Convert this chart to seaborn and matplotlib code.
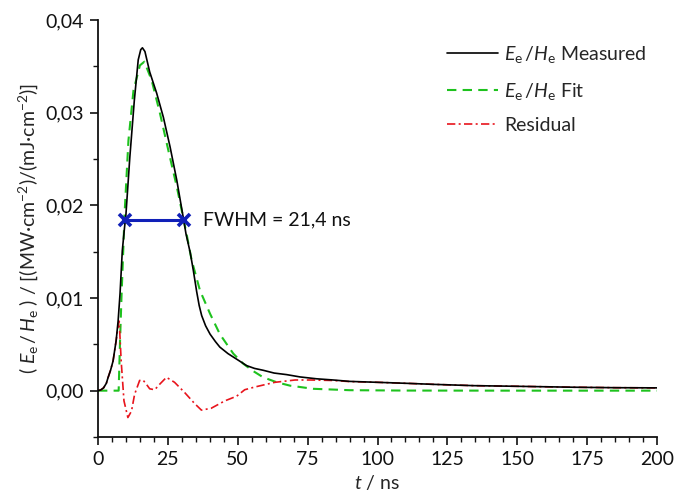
import numpy as np
import pandas as pd
import matplotlib
matplotlib.use("Agg")
import matplotlib.pyplot as plt
import seaborn as sns
from matplotlib.ticker import MultipleLocator, FuncFormatter

# Measured normalised irradiance E_e/H_e versus time
t_meas = [0, 1, 2, 3, 3.6, 4.5, 5.4, 6.5, 7.2, 7.9, 8.7, 9.5, 10.0, 11.4, 13.0, 14.4,
          15.3, 15.9, 16.8, 18.5, 21.0, 23.4, 25.8, 28.2, 30.5, 31.5, 33.0, 34.1,
          35.3, 36.2, 37.1, 38.5, 40.1, 42.0, 43.6, 46.5, 49.6, 53.2, 56.0, 59.1,
          63.0, 67.5, 72.3, 78.2, 84.2, 90, 100, 110.5, 120, 134.4, 150, 170, 185, 200]
v_meas = [0, 0.00008, 0.0003, 0.0008, 0.0014, 0.0022, 0.0032, 0.0054, 0.0075,
          0.0105, 0.0151, 0.0176, 0.0190, 0.0252, 0.0313, 0.0357, 0.0368, 0.0370,
          0.0366, 0.0344, 0.0321, 0.0295, 0.0263, 0.0227, 0.0187, 0.0169, 0.0149,
          0.0130, 0.0107, 0.0092, 0.0081, 0.0070, 0.0061, 0.0053, 0.0047, 0.0040,
          0.0034, 0.0027, 0.0024, 0.0022, 0.0019, 0.00173, 0.00148, 0.00128,
          0.00115, 0.00100, 0.00090, 0.00079, 0.00068, 0.00054, 0.00047, 0.00037,
          0.00032, 0.00030]

# Fitted curve
t_fit = [0, 7.4, 7.9, 8.4, 9.0, 9.5, 10.9, 12.7, 15.0, 16.6, 19.2, 22.2, 25.2,
         28.2, 30.2, 31.7, 33.5, 36.5, 40.1, 43.6, 48.4, 52.0, 55.6, 59.1, 64.0,
         68.7, 77.0, 90, 110, 150, 200]
v_fit = [0, 0, 0.0054, 0.0100, 0.0148, 0.0190, 0.0270, 0.0324, 0.0351, 0.0355,
         0.0335, 0.0299, 0.0259, 0.0220, 0.0191, 0.0169, 0.0141, 0.0108, 0.0083,
         0.0061, 0.0040, 0.0029, 0.0021, 0.00144, 0.0009, 0.00054, 0.0002,
         0.00005, 0.00001, 0, 0]

# Residual = measured - fit
t_res = [0, 1, 2, 3, 3.6, 4.5, 5.4, 6.5, 7.2, 7.6, 8.3, 9.3, 10.7, 12.0, 13.1,
         14.9, 16.1, 17.3, 18.5, 20.3, 22.1, 24.5, 27.4, 31.0, 34.6, 37.0, 40.5,
         45.4, 49.6, 52.5, 56.2, 63.3, 70.5, 76.0, 84.0, 90, 100, 110.5, 120,
         134.4, 150, 170, 185, 200]
v_res = [0, 0.00008, 0.0003, 0.0008, 0.0014, 0.0022, 0.0032, 0.0054, 0.0070,
         0.0075, 0.0032, -0.0011, -0.0029, -0.0022, -0.0004, 0.0011, 0.00115,
         0.0007, 0.0002, 0.0001, 0.0007, 0.00144, 0.0009, -0.0002, -0.0014,
         -0.0021, -0.0019, -0.0011, -0.0006, 0.0001, 0.0004, 0.0009, 0.00115,
         0.00115, 0.0011, 0.00098, 0.0009, 0.00079, 0.00068, 0.00054, 0.00047,
         0.00037, 0.00032, 0.00030]

# Full width at half maximum of the pulse
fwhm_value = 21.4
fwhm_start = 9.55
half_max = 0.01838

sns.set_theme(style="ticks")
plt.rcParams["font.family"] = ["Lato", "DejaVu Sans"]
plt.rcParams["mathtext.fontset"] = "custom"
plt.rcParams["mathtext.rm"] = "Lato"
plt.rcParams["mathtext.it"] = "Lato:italic"
plt.rcParams["mathtext.bf"] = "Lato:bold"

fig = plt.figure(figsize=(6.88, 4.95), dpi=100)
ax = fig.add_axes([0.1424, 0.1172, 0.8126, 0.8424])

meas = pd.DataFrame({"t": t_meas, "v": v_meas})
fit = pd.DataFrame({"t": t_fit, "v": v_fit})
res = pd.DataFrame({"t": t_res, "v": v_res})

lbl_meas = r"$E_\mathrm{e}\,/H_\mathrm{e}$ Measured"
lbl_fit = r"$E_\mathrm{e}\,/H_\mathrm{e}$ Fit"

sns.lineplot(data=meas, x="t", y="v", ax=ax, color="black", lw=1.2,
             label=lbl_meas, zorder=3)
sns.lineplot(data=fit, x="t", y="v", ax=ax, color="#1ec21e", lw=1.5,
             label=lbl_fit, zorder=2)
ax.lines[-1].set_dashes([4.5, 3])
sns.lineplot(data=res, x="t", y="v", ax=ax, color="#e8141c", lw=1.2,
             label="Residual", zorder=2)
ax.lines[-1].set_dashes([5, 2, 1.2, 2])

# FWHM marker
blue = "#1020b8"
fwhm = pd.DataFrame({"t": [fwhm_start, fwhm_start + fwhm_value],
                     "v": [half_max, half_max]})
sns.lineplot(data=fwhm, x="t", y="v", ax=ax, color=blue, lw=2.2,
             marker="x", markersize=8, markeredgewidth=2.6,
             markeredgecolor=blue, markerfacecolor=blue, zorder=4,
             legend=False)
ax.text(37.6, half_max, "FWHM = 21,4 ns", fontsize=14, va="center",
        ha="left", color="#111111")

ax.set_xlim(0, 200)
ax.set_ylim(-0.005, 0.04)
ax.xaxis.set_major_locator(MultipleLocator(25))
ax.xaxis.set_minor_locator(MultipleLocator(5))
ax.yaxis.set_major_locator(MultipleLocator(0.01))
ax.yaxis.set_minor_locator(MultipleLocator(0.005))
ax.yaxis.set_major_formatter(FuncFormatter(lambda v, p: f"{v:.2f}".replace(".", ",").replace("-0,00", "0,00")))
ax.xaxis.set_major_formatter(FuncFormatter(lambda v, p: f"{v:.0f}"))

ax.tick_params(which="major", direction="out", length=6, width=1.2,
               labelsize=14, colors="#111111", pad=4)
ax.tick_params(which="minor", direction="out", length=3.5, width=1.0,
               colors="#111111")
for side in ("top", "right"):
    ax.spines[side].set_visible(False)
for side in ("left", "bottom"):
    ax.spines[side].set_linewidth(1.3)
    ax.spines[side].set_color("#111111")

ax.set_xlabel(r"$t$ / ns", fontsize=14, labelpad=4)
ax.set_ylabel(r"( $E_\mathrm{e}\,/\,H_\mathrm{e}$ ) / [(MW·cm$^{-2}$)/(mJ·cm$^{-2}$)]",
              fontsize=14, labelpad=4)

leg = ax.legend(loc="upper left", bbox_to_anchor=(447 / 688, 1 - 44 / 495),
                bbox_transform=fig.transFigure, frameon=False, fontsize=14,
                handlelength=2.6, handletextpad=0.35, labelspacing=0.8,
                borderpad=0, borderaxespad=0)

fig.savefig("out.png", dpi=100)
